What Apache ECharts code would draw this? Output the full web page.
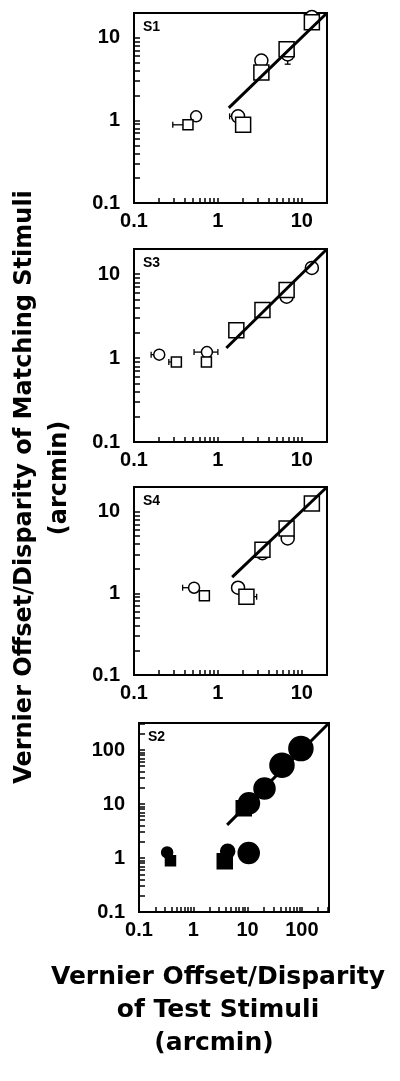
<!DOCTYPE html>
<html><head><meta charset="utf-8">
<script src="https://cdn.jsdelivr.net/npm/echarts@6/dist/echarts.min.js"></script>
<style>html,body{margin:0;padding:0;background:#fff}#c{width:400px;height:1081px}</style>
</head><body><div id="c"></div>
<script>
// ---- data ----
const panelNames = ['S1', 'S3', 'S4', 'S2'];
const xMaxes = [20, 20, 20, 316];
const yMaxes = [20, 20, 20, 316];
const axisMin = 0.1;
const decadeLabels = [0.1, 1, 10, 100];

const s1Circles = [[0.55, 1.12], [1.74, 1.12], [3.3, 5.3], [6.8, 6.3], [13.2, 17.9]];
const s1Squares = [[0.44, 0.885], [2.0, 0.885], [3.3, 3.8], [6.6, 7.3], [13.2, 15.5]];
const s1Fit = [[1.35, 1.42], [20, 20]];
const s1ErrX = [[0.44, 0.885, 0.29, 0.44], [1.74, 1.12, 1.38, 1.74]];
const s1ErrY = [[6.8, 6.3, 4.8, 6.3]];

const s3Circles = [[0.2, 1.1], [0.74, 1.18], [6.6, 5.4], [13.2, 11.9]];
const s3Squares = [[0.32, 0.9], [0.73, 0.9], [1.66, 2.15], [3.4, 3.75], [6.6, 6.5]];
const s3Fit = [[1.26, 1.32], [20, 20]];
const s3ErrX = [[0.2, 1.1, 0.16, 0.2], [0.32, 0.9, 0.26, 0.32], [0.74, 1.18, 0.52, 1.0]];
const s3ErrY = [];

const s4Circles = [[0.52, 1.17], [1.74, 1.17], [3.4, 3.1], [6.8, 4.7]];
const s4Squares = [[0.69, 0.93], [2.19, 0.91], [3.4, 3.4], [6.6, 6.2], [13.2, 12.6]];
const s4Fit = [[1.48, 1.58], [20, 20]];
const s4ErrX = [[0.52, 1.17, 0.38, 0.52], [2.19, 0.91, 2.19, 2.9]];
const s4ErrY = [[6.8, 4.7, 4.0, 4.7]];

const s2Circles = [[0.33, 1.27], [4.3, 1.33], [10.5, 1.24], [10.6, 10.3], [20.5, 19.4], [43, 52], [96, 106]];
const s2Squares = [[0.38, 0.89], [3.8, 0.87], [8.5, 8.3]];
const s2Fit = [[4.2, 4.1], [316, 316]];

const panels = [
  {circles: s1Circles, squares: s1Squares, fit: s1Fit, errX: s1ErrX, errY: s1ErrY, filled: false},
  {circles: s3Circles, squares: s3Squares, fit: s3Fit, errX: s3ErrX, errY: s3ErrY, filled: false},
  {circles: s4Circles, squares: s4Squares, fit: s4Fit, errX: s4ErrX, errY: s4ErrY, filled: false},
  {circles: s2Circles, squares: s2Squares, fit: s2Fit, errX: [], errY: [], filled: true}
];

// ---- layout ----
const grids = [
  {left: 134, top: 13, width: 193, height: 190},
  {left: 134, top: 249, width: 193, height: 193},
  {left: 134, top: 487, width: 193, height: 188},
  {left: 139, top: 723, width: 190, height: 189}
];

function tickValues(max) {
  const out = [];
  decadeLabels.forEach(d => { for (let k = 1; k <= 9; k++) { const v = +(k * d).toPrecision(3); if (v < max * 0.999) out.push(v); } });
  return out;
}
const labelValues = max => decadeLabels.filter(v => v <= max);

const tickFont = {fontSize: 20, fontWeight: 'bold', color: '#000', fontFamily: '"Liberation Sans", Arial, sans-serif'};

const option = {
  animation: false,
  backgroundColor: '#fff',
  grid: grids.map(g => Object.assign({show: true, borderColor: '#000', borderWidth: 2, backgroundColor: 'transparent', containLabel: false}, g)),
  xAxis: grids.map((g, i) => ({
    type: 'log', logBase: 10, gridIndex: i, min: axisMin, max: xMaxes[i],
    axisLine: {show: false}, splitLine: {show: false},
    axisTick: {show: true, inside: true, length: 5, customValues: tickValues(xMaxes[i]), lineStyle: {color: '#000', width: 1.5}},
    axisLabel: Object.assign({customValues: labelValues(xMaxes[i]), formatter: v => String(v), margin: 8}, tickFont)
  })),
  yAxis: grids.map((g, i) => ({
    type: 'log', logBase: 10, gridIndex: i, min: axisMin, max: yMaxes[i],
    axisLine: {show: false}, splitLine: {show: false},
    axisTick: {show: true, inside: true, length: 6, customValues: tickValues(yMaxes[i]), lineStyle: {color: '#000', width: 1.5}},
    axisLabel: Object.assign({customValues: labelValues(yMaxes[i]), formatter: v => String(v), margin: 14}, tickFont)
  })),
  series: [],
  graphic: []
};

function errXRender(params, api) {
  const y = api.value(1), lo = api.value(2), hi = api.value(3);
  const a = api.coord([lo, y]), b = api.coord([hi, y]);
  const st = {stroke: '#000', lineWidth: 1.3};
  return {type: 'group', children: [
    {type: 'line', shape: {x1: a[0], y1: a[1], x2: b[0], y2: b[1]}, style: st},
    {type: 'line', shape: {x1: a[0], y1: a[1] - 3, x2: a[0], y2: a[1] + 3}, style: st},
    {type: 'line', shape: {x1: b[0], y1: b[1] - 3, x2: b[0], y2: b[1] + 3}, style: st}
  ]};
}
function errYRender(params, api) {
  const x = api.value(0), lo = api.value(2), hi = api.value(3);
  const a = api.coord([x, lo]), b = api.coord([x, hi]);
  const st = {stroke: '#000', lineWidth: 1.3};
  return {type: 'group', children: [
    {type: 'line', shape: {x1: a[0], y1: a[1], x2: b[0], y2: b[1]}, style: st},
    {type: 'line', shape: {x1: a[0] - 3, y1: a[1], x2: a[0] + 3, y2: a[1]}, style: st},
    {type: 'line', shape: {x1: b[0] - 3, y1: b[1], x2: b[0] + 3, y2: b[1]}, style: st}
  ]};
}

panels.forEach((p, i) => {
  const idx = {xAxisIndex: i, yAxisIndex: i};
  const fill = p.filled ? '#000' : '#fff';
  if (p.errX.length) option.series.push(Object.assign({type: 'custom', z: 1, silent: true, data: p.errX, renderItem: errXRender}, idx));
  if (p.errY.length) option.series.push(Object.assign({type: 'custom', z: 1, silent: true, data: p.errY, renderItem: errYRender}, idx));
  option.series.push(Object.assign({
    type: 'scatter', z: 2, symbol: 'circle', data: p.circles,
    symbolSize: d => p.filled ? (d[0] < 1 ? 11 : d[0] < 8 ? 14 : d[0] < 30 ? 21 : 24) : (d[0] < 1 ? 11 : 13),
    itemStyle: {color: fill, borderColor: '#000', borderWidth: 1.5, opacity: 1}
  }, idx));
  option.series.push(Object.assign({
    type: 'scatter', z: 3, symbol: 'rect', data: p.squares,
    symbolSize: d => (d[0] < 1 ? 10 : 15),
    itemStyle: {color: fill, borderColor: '#000', borderWidth: 1.5, opacity: 1}
  }, idx));
  option.series.push(Object.assign({
    type: 'line', z: 4, data: p.fit, symbol: 'none', silent: true,
    lineStyle: {color: '#000', width: 3}
  }, idx));
  option.graphic.push({
    type: 'text', left: grids[i].left + 9, top: grids[i].top + 7,
    style: {text: panelNames[i], fontSize: 14, fontWeight: 'bold', fontFamily: '"Liberation Sans", Arial, sans-serif', fill: '#000'}
  });
});

const titleFont = {fontSize: 24, fontWeight: 'bold', fontFamily: '"DejaVu Sans", sans-serif', fill: '#000', align: 'center', verticalAlign: 'middle'};
const xTitleFont = Object.assign({}, titleFont, {fontSize: 25});
option.graphic.push(
  {type: 'text', x: 25, y: 487, rotation: Math.PI / 2, style: Object.assign({text: 'Vernier Offset/Disparity of Matching Stimuli'}, titleFont)},
  {type: 'text', x: 60, y: 478, rotation: Math.PI / 2, style: Object.assign({text: '(arcmin)'}, titleFont)},
  {type: 'text', x: 218, y: 977, style: Object.assign({text: 'Vernier Offset/Disparity'}, xTitleFont)},
  {type: 'text', x: 218, y: 1010, style: Object.assign({text: 'of Test Stimuli'}, xTitleFont)},
  {type: 'text', x: 214, y: 1043, style: Object.assign({text: '(arcmin)'}, xTitleFont)}
);

const chart = echarts.init(document.getElementById('c'), null, {renderer: 'canvas'});
chart.setOption(option);
</script>
</body></html>
